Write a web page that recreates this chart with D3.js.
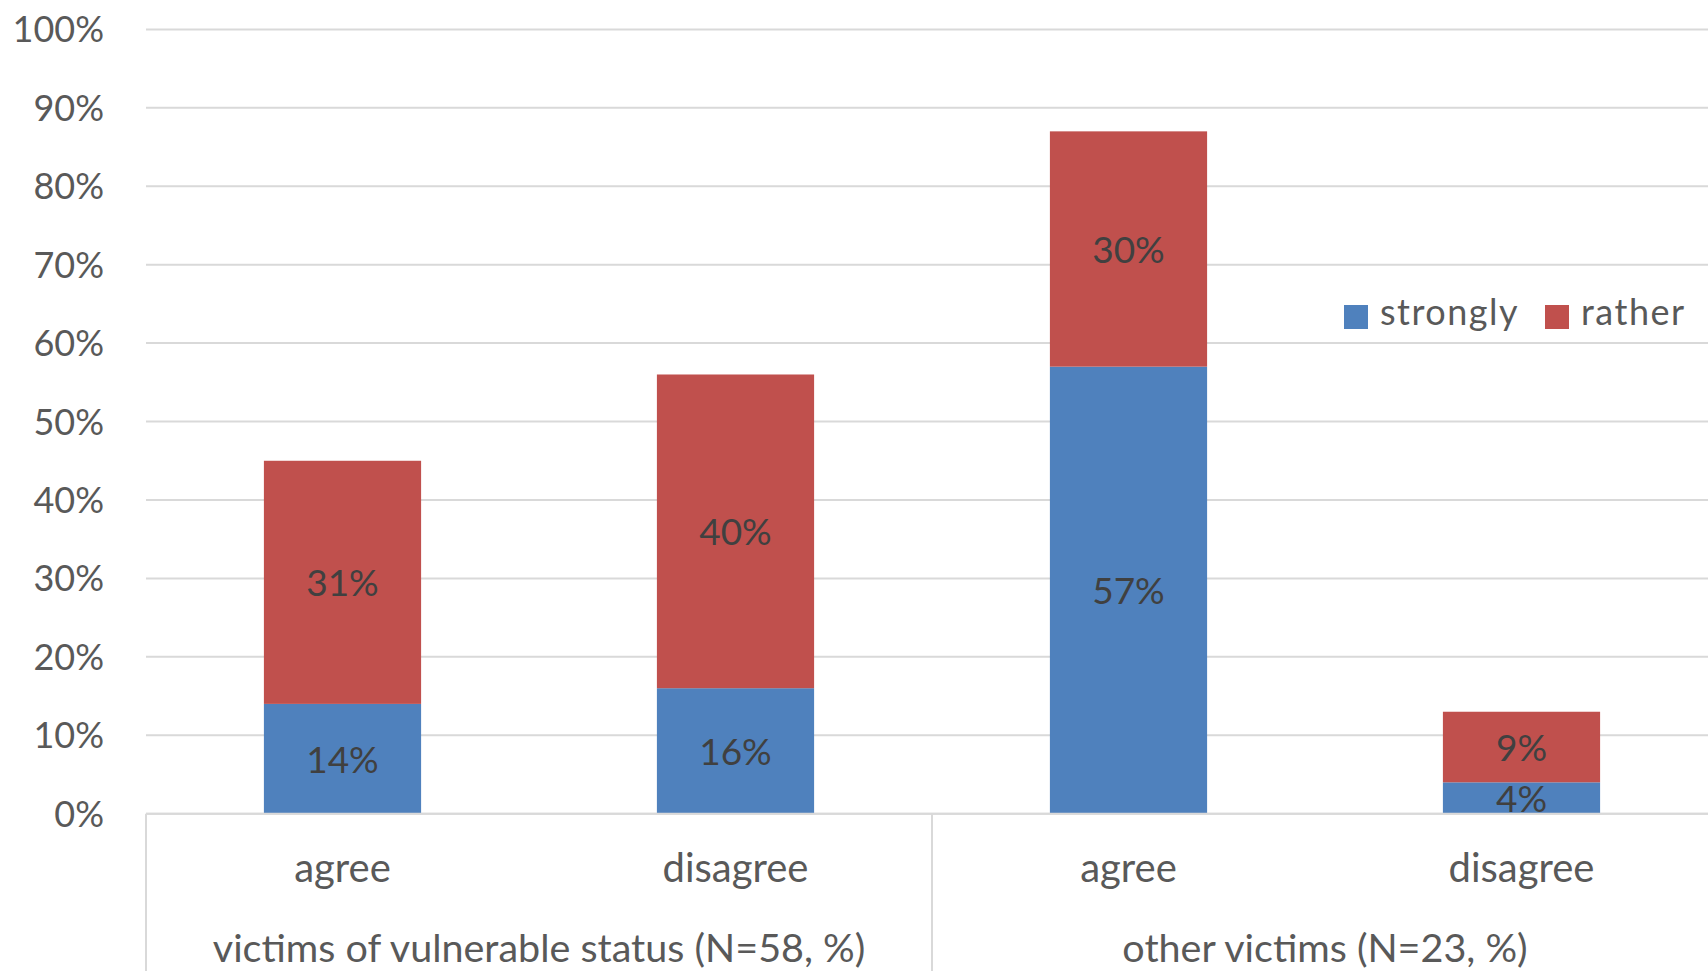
<!DOCTYPE html>
<html lang="en">
<head>
    <meta charset="UTF-8">
    <title>Chart</title>
    <style>
        body { margin: 0; background: #fff; overflow: hidden; }
        svg { display: block; font-family: Lato, "Open Sans", sans-serif; }
    </style>
</head>
<body>
    <div id="graphic"></div>

    <script src="https://cdn.jsdelivr.net/npm/d3@7"></script>
    <script>
        // data
        var categories = ['agree', 'disagree', 'agree', 'disagree'];
        var groups = ['victims of vulnerable status (N=58, %)', 'other victims (N=23, %)'];
        var seriesNames = ['strongly', 'rather'];
        var strongly = [14, 16, 57, 4];
        var rather = [31, 40, 30, 9];
        var yTicks = [0, 10, 20, 30, 40, 50, 60, 70, 80, 90, 100];

        var colors = ['#4F81BD', '#C0504D'];
        var width = 1708, height = 971;
        var plotTop = 29.4, plotBottom = 813.7, plotLeft = 146, plotRight = 1718;

        var svg = d3.select('#graphic')
            .append('svg')
            .attr('width', width)
            .attr('height', height);

        var y = d3.scaleLinear().domain([0, 100]).range([plotBottom, plotTop]);
        var x = d3.scaleBand()
            .domain(d3.range(categories.length))
            .range([plotLeft, plotRight])
            .paddingInner(0.6)
            .paddingOuter(0.3);

        // gridlines
        svg.selectAll('.grid')
            .data(yTicks)
            .join('line')
            .attr('class', 'grid')
            .attr('x1', plotLeft)
            .attr('x2', width)
            .attr('y1', function(d) { return y(d); })
            .attr('y2', function(d) { return y(d); })
            .attr('stroke', '#d9d9d9')
            .attr('stroke-width', 2);

        // y tick labels
        svg.selectAll('.ytick')
            .data(yTicks)
            .join('text')
            .attr('class', 'ytick')
            .attr('x', 104)
            .attr('y', function(d) { return y(d); })
            .attr('dy', '0.36em')
            .attr('text-anchor', 'end')
            .attr('font-size', 36)
            .attr('fill', '#595959')
            .text(function(d) { return d + '%'; });

        // stacked bars
        var rows = categories.map(function(c, i) {
            return { i: i, strongly: strongly[i], rather: rather[i] };
        });
        var stack = d3.stack().keys(seriesNames)(rows);

        var layer = svg.selectAll('.layer')
            .data(stack)
            .join('g')
            .attr('class', 'layer')
            .attr('fill', function(d, i) { return colors[i]; });

        layer.selectAll('rect')
            .data(function(d) { return d; })
            .join('rect')
            .attr('x', function(d) { return x(d.data.i); })
            .attr('width', x.bandwidth())
            .attr('y', function(d) { return y(d[1]); })
            .attr('height', function(d) { return y(d[0]) - y(d[1]); });

        layer.selectAll('.lbl')
            .data(function(d) { return d; })
            .join('text')
            .attr('class', 'lbl')
            .attr('x', function(d) { return x(d.data.i) + x.bandwidth() / 2; })
            .attr('y', function(d) { return y((d[0] + d[1]) / 2); })
            .attr('dy', '0.38em')
            .attr('text-anchor', 'middle')
            .attr('font-size', 37)
            .attr('fill', '#404040')
            .text(function(d) { return (d[1] - d[0]) + '%'; });

        // category axis (two levels)
        svg.append('line')
            .attr('x1', plotLeft).attr('x2', width)
            .attr('y1', plotBottom).attr('y2', plotBottom)
            .attr('stroke', '#d9d9d9').attr('stroke-width', 2);

        var step = x.step();
        var sepX = [plotLeft, plotLeft + 2 * step, plotLeft + 4 * step];
        svg.selectAll('.sep')
            .data(sepX)
            .join('line')
            .attr('class', 'sep')
            .attr('x1', function(d) { return d; })
            .attr('x2', function(d) { return d; })
            .attr('y1', plotBottom)
            .attr('y2', height)
            .attr('stroke', '#d9d9d9')
            .attr('stroke-width', 2);

        svg.selectAll('.cat')
            .data(categories)
            .join('text')
            .attr('class', 'cat')
            .attr('x', function(d, i) { return x(i) + x.bandwidth() / 2; })
            .attr('y', 882)
            .attr('text-anchor', 'middle')
            .attr('font-size', 40)
            .attr('fill', '#595959')
            .text(function(d) { return d; });

        svg.selectAll('.grp')
            .data(groups)
            .join('text')
            .attr('class', 'grp')
            .attr('x', function(d, i) { return plotLeft + step * (2 * i + 1); })
            .attr('y', 962)
            .attr('text-anchor', 'middle')
            .attr('font-size', 39.5)
            .attr('fill', '#595959')
            .text(function(d) { return d; });

        // legend
        var legX = [1344, 1545];
        var leg = svg.selectAll('.leg')
            .data(seriesNames)
            .join('g')
            .attr('class', 'leg')
            .attr('transform', function(d, i) { return 'translate(' + legX[i] + ',305)'; });

        leg.append('rect')
            .attr('width', 24)
            .attr('height', 24)
            .attr('fill', function(d, i) { return colors[i]; });

        leg.append('text')
            .attr('x', 36)
            .attr('y', 20)
            .attr('font-size', 36)
            .attr('letter-spacing', 1.5)
            .attr('fill', '#595959')
            .text(function(d) { return d; });
    </script>
</body>
</html>
